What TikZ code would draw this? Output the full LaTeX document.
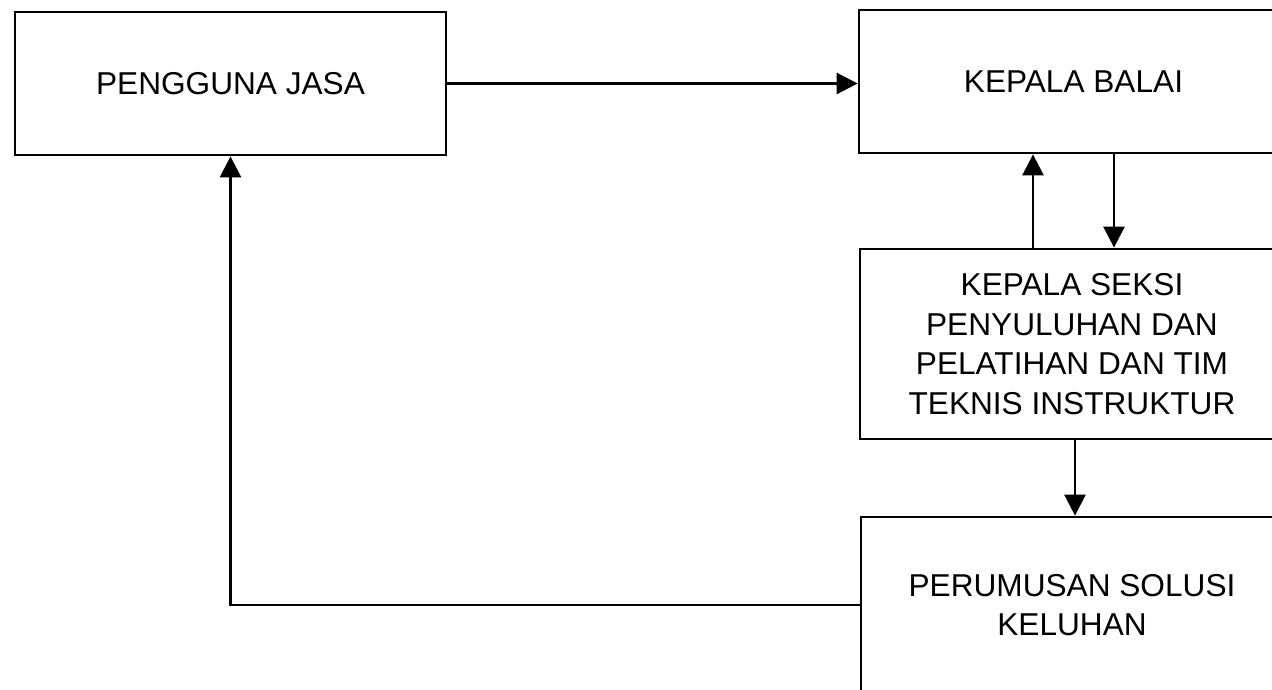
\documentclass[tikz,border=0pt]{standalone}
\usepackage{fontspec}
\setmainfont{Liberation Sans}
\usetikzlibrary{arrows.meta}
\begin{document}
\begin{tikzpicture}[x=0.02cm,y=-0.02cm,
  box/.style={draw,line width=1.6pt,rectangle,inner sep=0pt,align=center,
    font=\fontsize{18}{22.5}\selectfont},
  arr/.style={line width=1.5pt,-{Triangle[length=12pt,width=12pt]}}]
\useasboundingbox (0,0) rectangle (1272,690);
\clip (0,0) rectangle (1272,690);
\node[box,minimum width=8.62cm,minimum height=2.86cm] (pj) at (230.5,83.5) {PENGGUNA JASA};
\node[box,minimum width=8.58cm,minimum height=2.86cm] (kb) at (1073.5,81.5) {KEPALA BALAI};
\node[box,minimum width=8.48cm,minimum height=3.8cm] (ks) at (1072,344) {KEPALA SEKSI\\PENYULUHAN DAN\\PELATIHAN DAN TIM\\TEKNIS INSTRUKTUR};
\node[box,minimum width=8.44cm,minimum height=3.52cm] (pr) at (1072,605) {PERUMUSAN SOLUSI\\KELUHAN};
\coordinate (u) at (1033,0);
\coordinate (d) at (1114,0);
\coordinate (m) at (1075,0);
\draw[arr] (pj.east) -- (pj.east -| kb.west);
\draw[arr] (u |- ks.north) -- (u |- kb.south);
\draw[arr] (d |- kb.south) -- (d |- ks.north);
\draw[arr] (m |- ks.south) -- (m |- pr.north);
\draw[arr] (pr.west) -| (pj.south);
\end{tikzpicture}
\end{document}
